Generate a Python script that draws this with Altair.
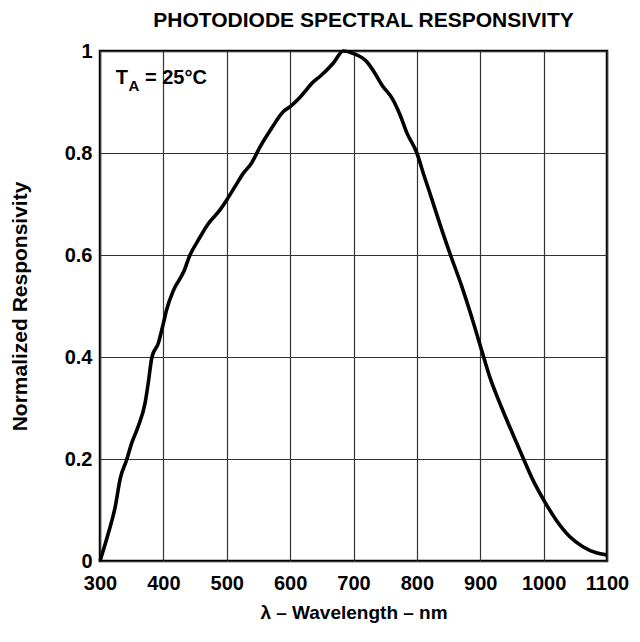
import altair as alt
import pandas as pd

wavelength = [300, 313, 324, 332, 342, 350, 360, 371, 376, 382, 392, 400, 405, 416, 432, 442, 455,
              470, 489, 500, 513, 526, 539, 553, 571, 589, 600, 616, 637, 647, 668, 684, 700, 721,
              734, 745, 761, 774, 784, 800, 811, 824, 837, 853, 871, 883, 902, 915, 933, 952, 968,
              983, 1000, 1020, 1041, 1062, 1083, 1099]
responsivity = [0.0, 0.054, 0.106, 0.162, 0.198, 0.231, 0.263, 0.309, 0.348, 0.400, 0.427, 0.466,
                0.492, 0.531, 0.567, 0.600, 0.629, 0.660, 0.688, 0.708, 0.734, 0.760, 0.780, 0.813,
                0.849, 0.881, 0.891, 0.910, 0.940, 0.950, 0.976, 1.000, 0.995, 0.979, 0.956, 0.933,
                0.907, 0.873, 0.840, 0.800, 0.757, 0.708, 0.658, 0.600, 0.538, 0.492, 0.414, 0.361,
                0.303, 0.247, 0.201, 0.159, 0.120, 0.080, 0.048, 0.028, 0.016, 0.012]

x_ticks = [300, 400, 500, 600, 700, 800, 900, 1000, 1100]
y_ticks = [0, 0.2, 0.4, 0.6, 0.8, 1.0]

ann_text = ["T", "A", "= 25°C"]
ann_x = [325, 345, 371]
ann_y = [0.935, 0.922, 0.935]
ann_size = [20, 15, 20]

FONT = "Liberation Sans"

df = pd.DataFrame({"wl": wavelength, "r": responsivity})
ann = pd.DataFrame({"t": ann_text, "x": ann_x, "y": ann_y, "s": ann_size})

xscale = alt.Scale(domain=[300, 1100], nice=False, zero=False)
yscale = alt.Scale(domain=[0, 1], nice=False)

line = alt.Chart(df).mark_line(color="black", strokeWidth=3.6, interpolate="monotone").encode(
    x=alt.X("wl:Q", scale=xscale,
            axis=alt.Axis(values=x_ticks, title="λ – Wavelength – nm", grid=True,
                          gridColor="#333", gridWidth=1.2, domain=False, ticks=False,
                          labelPadding=12, titlePadding=10, labelFlush=False,
                          labelExpr="toString(datum.value)",
                          labelFont=FONT, labelFontSize=20, labelFontWeight="bold",
                          labelColor="black", titleFont=FONT, titleFontSize=19,
                          titleFontWeight="bold", titleColor="black")),
    y=alt.Y("r:Q", scale=yscale,
            axis=alt.Axis(values=y_ticks, title="Normalized Responsivity", grid=True,
                          gridColor="#333", gridWidth=1.2, domain=False, ticks=False,
                          labelPadding=8, titlePadding=34, labelFlush=False,
                          labelExpr="datum.value == 1 ? '1' : datum.value == 0 ? '0' : format(datum.value, '.1f')",
                          labelFont=FONT, labelFontSize=20, labelFontWeight="bold",
                          labelColor="black", titleFont=FONT, titleFontSize=21,
                          titleFontWeight="bold", titleColor="black")),
)

text = alt.Chart(ann).mark_text(align="left", baseline="alphabetic", font=FONT,
                                fontWeight="bold", color="black").encode(
    x=alt.X("x:Q", scale=xscale),
    y=alt.Y("y:Q", scale=yscale),
    text="t:N",
    size=alt.Size("s:Q", scale=None, legend=None),
)

chart = alt.layer(line, text).properties(
    width=507, height=510,
    title=alt.TitleParams("PHOTODIODE SPECTRAL RESPONSIVITY", font=FONT, fontSize=21,
                          fontWeight="bold", color="black", offset=10, anchor="middle", dx=10),
    autosize=alt.AutoSizeParams(type="none"),
    padding={"left": 92, "top": 43, "right": 25, "bottom": 73},
).configure_view(stroke="black", strokeWidth=2.5)

chart.save("out.html", embed_options={"renderer": "svg", "actions": False})
